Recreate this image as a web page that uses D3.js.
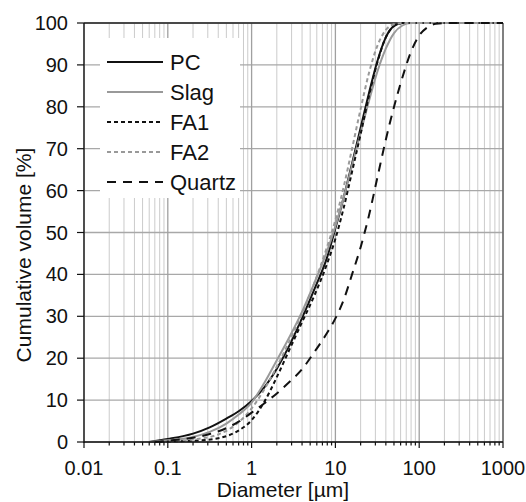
<!DOCTYPE html>
<html>
<head>
<meta charset="utf-8">
<script src="https://cdn.jsdelivr.net/npm/d3@7"></script>
<style>
  body { margin: 0; background: #fff; }
  svg { font-family: "Liberation Sans", Arial, Helvetica, sans-serif; }
</style>
</head>
<body>
<svg id="chart" width="526" height="502"></svg>
<script>
// particle size distributions, [diameter in um, cumulative volume %]
var pc = [[0.06,0],[0.1,0.7],[0.2,2.0],[0.316,3.5],[0.5,5.6],[0.708,7.4],[1,9.8],[1.41,13.0],[2,17.5],[2.82,23],[3.98,29.5],[5.62,36.5],[7.94,44],[10,51],[12.6,58.5],[15.8,66.5],[20,75],[25.1,83.2],[31.6,90.8],[39.8,96.5],[50.1,99.3],[63,100],[1000,100]];
var slag = [[0.06,0],[0.1,0.4],[0.2,1.2],[0.316,2.4],[0.5,4.4],[0.708,6.6],[1,9.4],[1.41,14],[2,19.5],[2.82,25],[3.98,31],[5.62,38],[7.94,45.5],[10,51.5],[12.6,58.5],[15.8,66],[20,73.8],[25.1,81.3],[31.6,88.3],[39.8,93.8],[50.1,97.6],[63,99.4],[79.4,100],[1000,100]];
var fa1 = [[0.08,0],[0.1,0.1],[0.2,0.3],[0.4,0.9],[0.708,2.8],[1,5.2],[1.41,9.5],[2,15.5],[2.82,22],[3.98,28.5],[5.62,35],[7.94,42.5],[10,48.5],[12.6,56],[15.8,64.5],[20,73.5],[25.1,82.5],[31.6,90.5],[39.8,96.5],[50.1,99.3],[63,100],[1000,100]];
var fa2 = [[0.07,0],[0.1,0.2],[0.2,0.6],[0.4,1.8],[0.708,4.8],[1,8.0],[1.41,12.5],[2,18],[2.82,24],[3.98,30.5],[5.62,38],[7.94,46.5],[10,53],[12.6,61],[15.8,70],[20,79.5],[25.1,88],[31.6,94.5],[39.8,98.3],[50.1,99.7],[63,100],[1000,100]];
var quartz = [[0.07,0],[0.1,0.3],[0.2,1.0],[0.316,1.9],[0.5,3.3],[0.708,4.9],[1,7.0],[1.41,9.2],[2,11.6],[2.82,14.3],[3.98,17.3],[5.62,21.5],[7.94,26],[10,29.5],[12.6,34],[15.8,40],[20,46.5],[25.1,54],[31.6,63],[39.8,72],[50.1,80],[63,87],[79.4,93],[100,97],[126,99],[158,99.8],[224,100],[1000,100]];

var seriesNames = ["PC", "Slag", "FA1", "FA2", "Quartz"];
var seriesData = [pc, slag, fa1, fa2, quartz];
var seriesColors = ["#111", "#999", "#111", "#999", "#111"];
var seriesDash = [null, null, "4,3", "4,3", "9,7"];

var xTicks = [0.01, 0.1, 1, 10, 100, 1000];
var xTickLabels = ["0.01", "0.1", "1", "10", "100", "1000"];
var yTicks = [0, 10, 20, 30, 40, 50, 60, 70, 80, 90, 100];

var svg = d3.select("#chart");
var plot = {left: 84, right: 503, top: 23, bottom: 442};

var x = d3.scaleLog().domain([0.01, 1000]).range([plot.left, plot.right]);
var y = d3.scaleLinear().domain([0, 100]).range([plot.bottom, plot.top]);

// minor grid values 2..9 in each decade
var minor = [];
xTicks.slice(0, -1).forEach(function(dec) {
    for (var k = 2; k <= 9; k++) minor.push(dec * k);
});

var grid = svg.append("g");
grid.selectAll(".minor").data(minor).enter()
    .append("line")
    .attr("x1", function(d) { return x(d); })
    .attr("x2", function(d) { return x(d); })
    .attr("y1", plot.top).attr("y2", plot.bottom)
    .attr("stroke", "#cbcbcb").attr("stroke-width", 1);
grid.selectAll(".hgrid").data(yTicks).enter()
    .append("line")
    .attr("x1", plot.left).attr("x2", plot.right)
    .attr("y1", function(d) { return y(d); })
    .attr("y2", function(d) { return y(d); })
    .attr("stroke", "#a8a8a8").attr("stroke-width", 1.3);
grid.selectAll(".major").data(xTicks).enter()
    .append("line")
    .attr("x1", function(d) { return x(d); })
    .attr("x2", function(d) { return x(d); })
    .attr("y1", plot.top).attr("y2", plot.bottom)
    .attr("stroke", "#a0a0a0").attr("stroke-width", 1.3);

// frame top/right
svg.append("line").attr("x1", plot.left).attr("x2", plot.right)
    .attr("y1", plot.top).attr("y2", plot.top)
    .attr("stroke", "#222").attr("stroke-width", 1.3);
svg.append("line").attr("x1", plot.right).attr("x2", plot.right)
    .attr("y1", plot.top).attr("y2", plot.bottom)
    .attr("stroke", "#555").attr("stroke-width", 1.2);

// legend
var leg = svg.append("g");
leg.append("rect").attr("x", 100).attr("y", 38).attr("width", 140).attr("height", 160)
    .attr("fill", "#fff");
seriesNames.forEach(function(name, i) {
    var ly = 62 + i * 30;
    leg.append("line")
        .attr("x1", 107).attr("x2", 163)
        .attr("y1", ly).attr("y2", ly)
        .attr("stroke", seriesColors[i])
        .attr("stroke-width", 2)
        .attr("stroke-dasharray", seriesDash[i]);
    leg.append("text")
        .attr("x", 170).attr("y", ly + 8)
        .attr("font-size", 22)
        .attr("fill", "#111")
        .text(name);
});

// curves
var line = d3.line()
    .x(function(d) { return x(d[0]); })
    .y(function(d) { return y(d[1]); })
    .curve(d3.curveMonotoneX);

svg.append("g").selectAll("path").data(seriesData).enter()
    .append("path")
    .attr("d", line)
    .attr("fill", "none")
    .attr("stroke", function(d, i) { return seriesColors[i]; })
    .attr("stroke-width", 2)
    .attr("stroke-dasharray", function(d, i) { return seriesDash[i]; });

// axes
var xAxis = svg.append("g")
    .attr("transform", "translate(0," + plot.bottom + ")");
xAxis.append("line").attr("x1", plot.left).attr("x2", plot.right)
    .attr("stroke", "#111").attr("stroke-width", 1.3);
xAxis.selectAll(".mt").data(minor).enter()
    .append("line")
    .attr("x1", function(d) { return x(d); })
    .attr("x2", function(d) { return x(d); })
    .attr("y1", 0).attr("y2", 3.5)
    .attr("stroke", "#111").attr("stroke-width", 1.2);
xAxis.selectAll(".Mt").data(xTicks).enter()
    .append("line")
    .attr("x1", function(d) { return x(d); })
    .attr("x2", function(d) { return x(d); })
    .attr("y1", 0).attr("y2", 6)
    .attr("stroke", "#111").attr("stroke-width", 1.2);
xAxis.selectAll("text").data(xTicks).enter()
    .append("text")
    .attr("x", function(d) { return x(d); })
    .attr("y", 33)
    .attr("text-anchor", "middle")
    .attr("font-size", 20)
    .attr("fill", "#111")
    .text(function(d, i) { return xTickLabels[i]; });

var yAxis = svg.append("g");
yAxis.append("line").attr("x1", plot.left).attr("x2", plot.left)
    .attr("y1", plot.top).attr("y2", plot.bottom + 1)
    .attr("stroke", "#111").attr("stroke-width", 1.3);
yAxis.selectAll(".yt").data(yTicks).enter()
    .append("line")
    .attr("x1", plot.left - 7).attr("x2", plot.left)
    .attr("y1", function(d) { return y(d); })
    .attr("y2", function(d) { return y(d); })
    .attr("stroke", "#111").attr("stroke-width", 1.2);
yAxis.selectAll("text").data(yTicks).enter()
    .append("text")
    .attr("x", plot.left - 16)
    .attr("y", function(d) { return y(d) + 7; })
    .attr("text-anchor", "end")
    .attr("font-size", 20)
    .attr("fill", "#111")
    .text(function(d) { return d; });

// axis titles
svg.append("text")
    .attr("x", 283).attr("y", 497)
    .attr("text-anchor", "middle")
    .attr("font-size", 21)
    .attr("fill", "#111")
    .text("Diameter [\u00b5m]");
svg.append("text")
    .attr("transform", "translate(31,255) rotate(-90)")
    .attr("text-anchor", "middle")
    .attr("font-size", 21)
    .attr("fill", "#111")
    .text("Cumulative volume [%]");
</script>
</body>
</html>
